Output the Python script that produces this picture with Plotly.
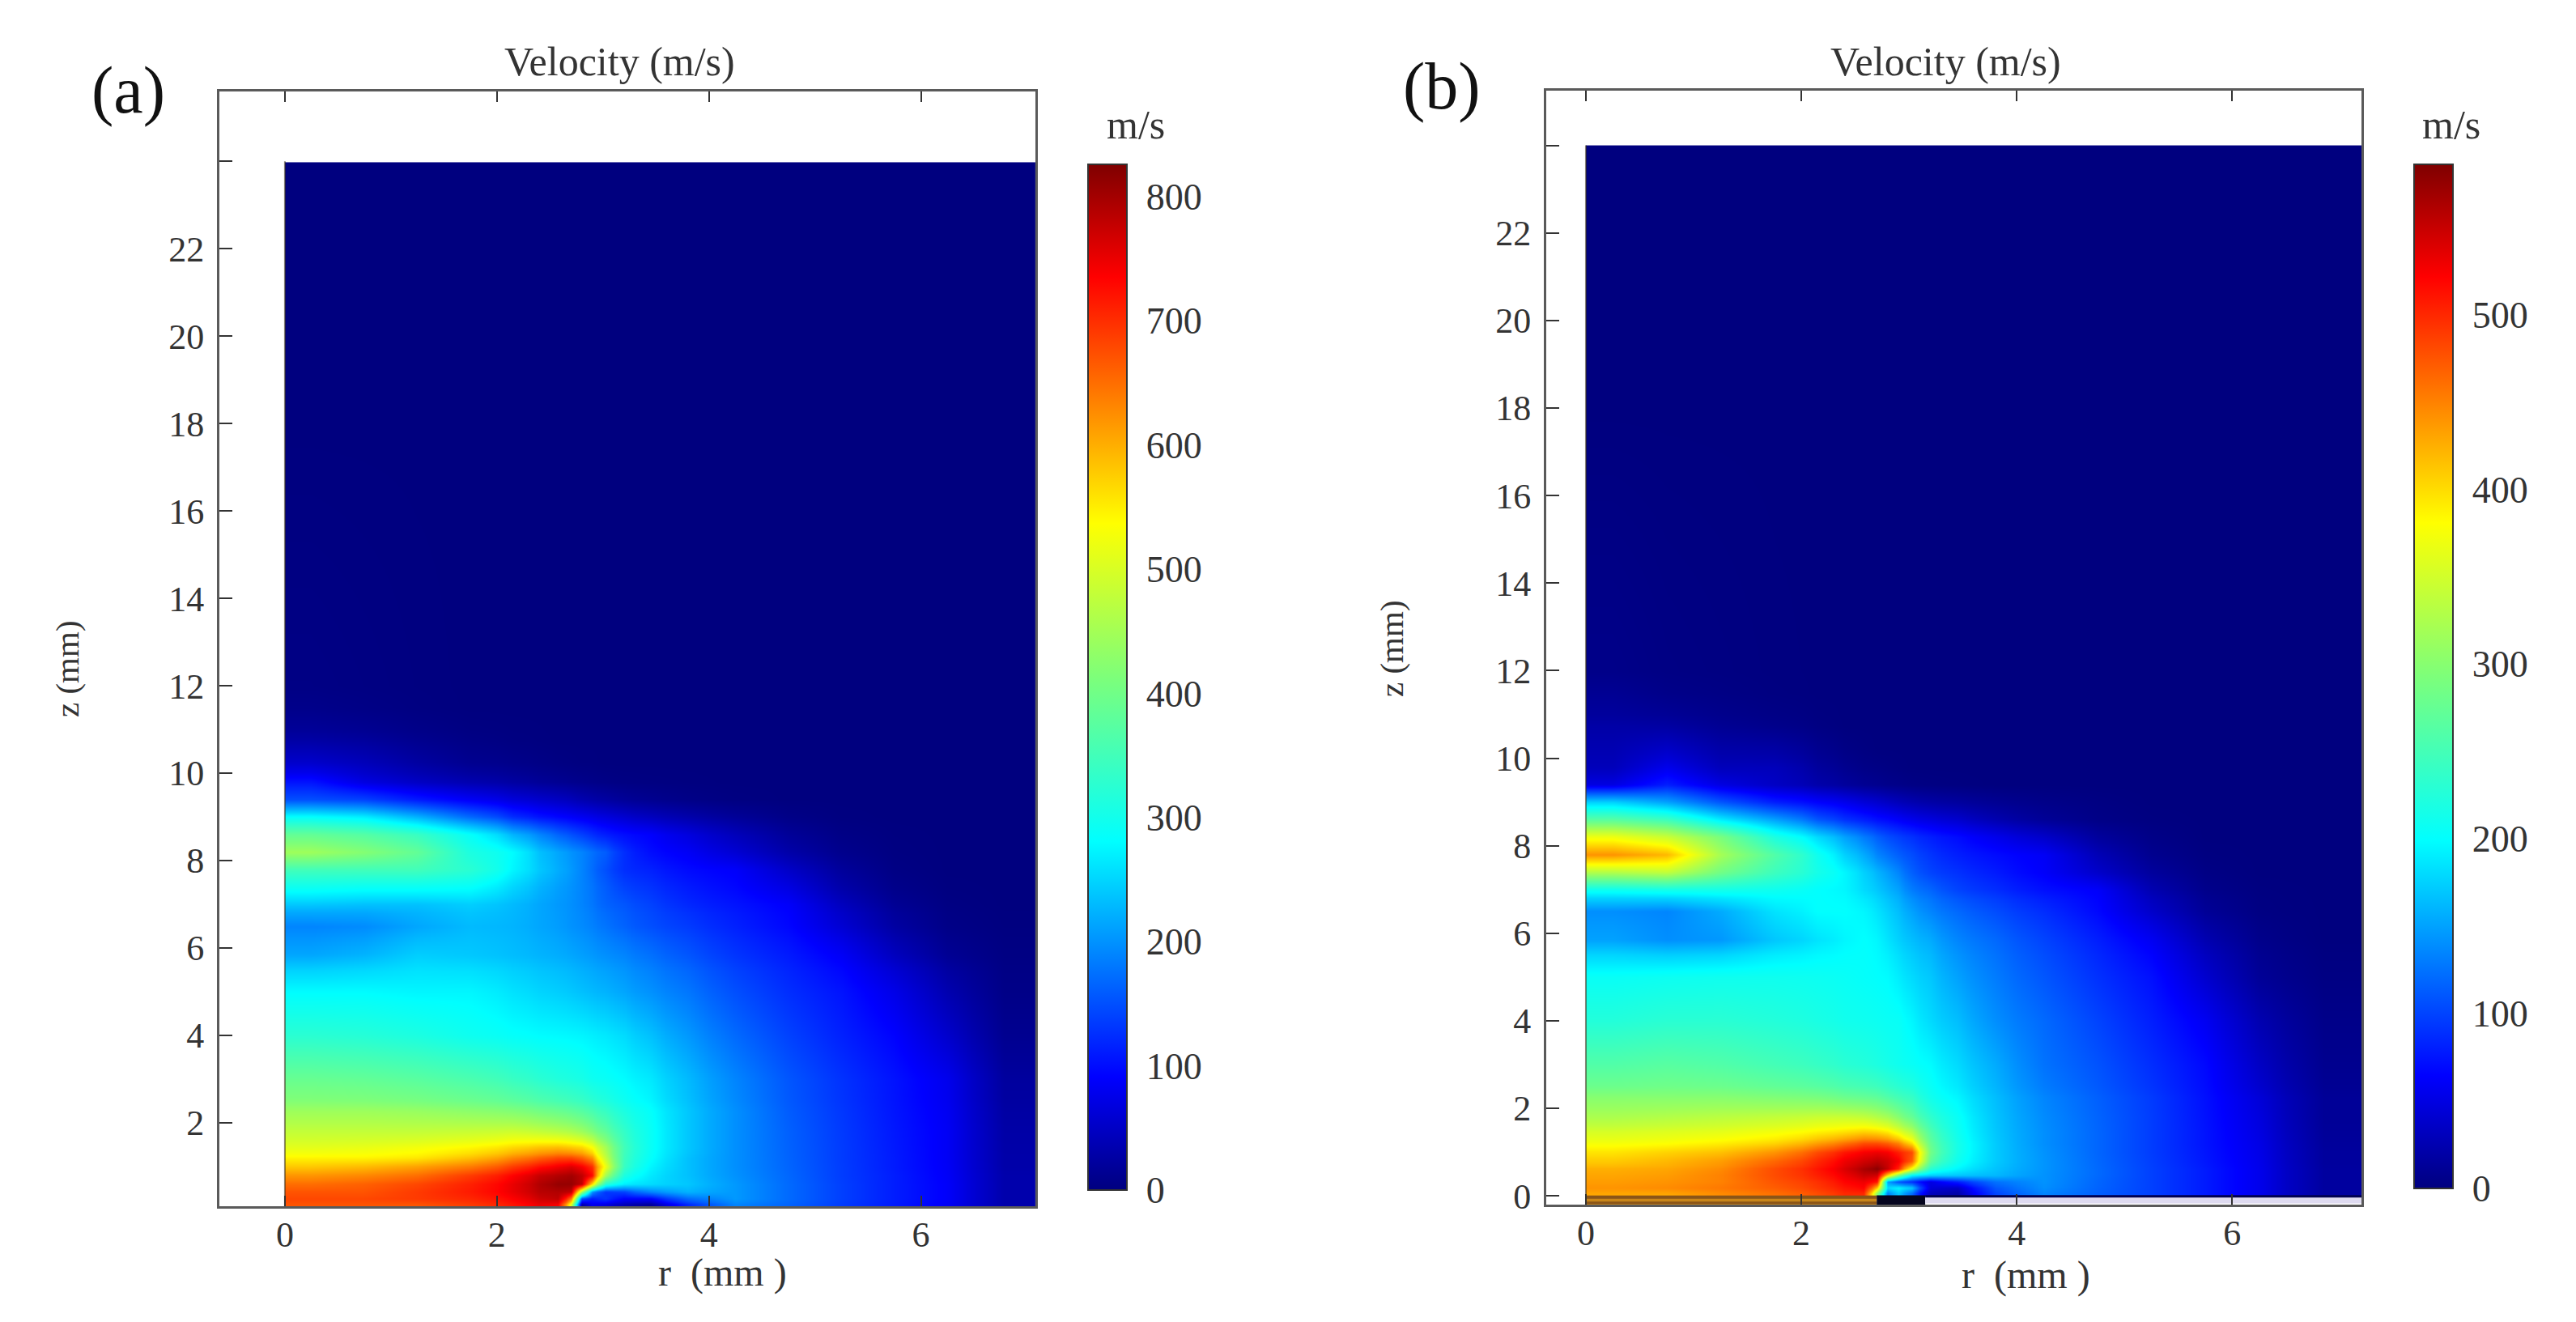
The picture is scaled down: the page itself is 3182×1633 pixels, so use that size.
import plotly.graph_objects as go

W, H = 3182, 1633

# Cell edges of the velocity maps (mm)
r_edges_a = [0, .5, 1, 1.5, 2, 2.3, 2.5, 2.65, 2.75, 2.85, 2.95, 3.1, 3.3, 3.6, 4, 4.5, 5, 5.5, 6, 6.5, 7.08]
r_edges_b = [0, .5, 1, 1.5, 2, 2.3, 2.5, 2.65, 2.75, 2.85, 2.95, 3.1, 3.3, 3.6, 4, 4.5, 5, 5.5, 6, 6.5, 7.2]
z_edges_a = [.09, .2, .35, .5, .7, .9, 1.1, 1.3, 1.6, 2, 2.5, 3.5, 4.5, 5.5, 6.2, 6.8, 7.2, 7.6, 8, 8.4, 8.8, 9.2, 9.6, 10, 10.5, 11, 12, 23.98]
z_edges_b = [0, .12, .25, .4, .55, .7, .9, 1.1, 1.3, 1.6, 2, 2.5, 3.5, 4.5, 5.5, 6.2, 6.8, 7.2, 7.6, 8, 8.4, 8.8, 9.2, 9.6, 10, 10.5, 11, 12, 24]

# Velocity (m/s), bottom row first
speed_a = [
    [670, 670, 670, 690, 720, 750, 740, 500, 30, 80, 70, 40, 20, 120, 190, 165, 135, 110, 85, 32],
    [680, 680, 690, 705, 735, 770, 780, 640, 150, 110, 130, 90, 90, 170, 205, 170, 138, 112, 88, 32],
    [670, 670, 690, 715, 750, 785, 790, 780, 450, 200, 130, 140, 190, 225, 205, 170, 138, 112, 88, 32],
    [650, 660, 680, 710, 750, 790, 810, 810, 780, 560, 320, 270, 255, 240, 205, 170, 138, 112, 88, 32],
    [620, 630, 650, 690, 735, 775, 790, 800, 780, 730, 450, 310, 265, 235, 200, 168, 136, 112, 86, 32],
    [580, 590, 610, 640, 690, 725, 745, 760, 740, 700, 520, 340, 275, 235, 198, 166, 136, 110, 85, 30],
    [545, 545, 555, 585, 630, 660, 680, 680, 660, 620, 480, 345, 285, 235, 198, 165, 135, 110, 84, 30],
    [510, 515, 525, 540, 565, 580, 585, 575, 565, 530, 450, 350, 290, 240, 198, 164, 135, 109, 84, 29],
    [480, 480, 480, 485, 490, 480, 470, 460, 445, 420, 385, 335, 290, 240, 198, 163, 134, 108, 84, 28],
    [445, 445, 440, 430, 420, 405, 395, 385, 375, 360, 340, 310, 285, 240, 198, 160, 132, 106, 82, 26],
    [390, 385, 375, 360, 340, 325, 315, 310, 305, 295, 290, 280, 265, 230, 190, 155, 128, 104, 78, 22],
    [325, 320, 310, 295, 285, 280, 278, 276, 274, 270, 265, 255, 235, 205, 170, 140, 115, 92, 55, 12],
    [280, 280, 275, 275, 260, 250, 245, 240, 235, 230, 225, 215, 200, 180, 150, 125, 105, 75, 35, 6],
    [215, 225, 245, 240, 232, 225, 220, 215, 210, 205, 198, 190, 175, 155, 130, 110, 85, 45, 15, 3],
    [190, 195, 215, 230, 225, 215, 208, 200, 195, 188, 178, 165, 150, 135, 115, 95, 60, 25, 6, 1],
    [240, 235, 235, 245, 230, 215, 205, 198, 190, 180, 165, 155, 140, 120, 105, 88, 45, 15, 3, 0],
    [295, 290, 290, 285, 250, 225, 210, 200, 190, 178, 160, 140, 128, 110, 95, 70, 30, 8, 1, 0],
    [350, 350, 350, 325, 275, 240, 220, 205, 190, 172, 150, 125, 115, 98, 88, 52, 20, 4, 0, 0],
    [445, 420, 385, 310, 280, 235, 215, 200, 190, 175, 160, 125, 100, 85, 60, 30, 10, 2, 0, 0],
    [385, 370, 340, 285, 225, 190, 165, 150, 138, 125, 112, 100, 90, 68, 42, 18, 5, 1, 0, 0],
    [285, 270, 225, 170, 125, 105, 95, 88, 82, 76, 68, 58, 46, 32, 18, 6, 1, 0, 0, 0],
    [150, 140, 110, 85, 65, 55, 48, 42, 35, 30, 25, 18, 12, 6, 2, 0, 0, 0, 0, 0],
    [105, 70, 50, 35, 25, 18, 14, 11, 9, 7, 5, 3, 2, 1, 0, 0, 0, 0, 0, 0],
    [55, 42, 25, 12, 8, 5, 3, 2, 1, 1, 0, 0, 0, 0, 0, 0, 0, 0, 0, 0],
    [28, 22, 12, 5, 2, 1, 0, 0, 0, 0, 0, 0, 0, 0, 0, 0, 0, 0, 0, 0],
    [8, 5, 2, 0, 0, 0, 0, 0, 0, 0, 0, 0, 0, 0, 0, 0, 0, 0, 0, 0],
    [0, 0, 0, 0, 0, 0, 0, 0, 0, 0, 0, 0, 0, 0, 0, 0, 0, 0, 0, 0],
]
speed_b = [
    [430, 430, 445, 460, 480, 500, 500, 300, 130, 170, 120, 30, 20, 100, 135, 115, 98, 78, 55, 16],
    [440, 445, 455, 470, 490, 510, 520, 410, 180, 195, 170, 45, 35, 110, 140, 117, 98, 78, 55, 16],
    [435, 440, 450, 475, 495, 520, 530, 510, 150, 110, 90, 50, 80, 125, 142, 118, 98, 78, 55, 16],
    [430, 435, 450, 480, 505, 530, 550, 545, 400, 290, 195, 175, 170, 162, 142, 120, 98, 78, 55, 16],
    [425, 430, 445, 480, 510, 540, 565, 580, 550, 500, 370, 230, 195, 168, 143, 120, 98, 78, 55, 16],
    [410, 420, 435, 465, 500, 530, 545, 555, 545, 525, 470, 270, 210, 172, 143, 119, 97, 76, 54, 15],
    [395, 405, 415, 440, 480, 510, 525, 530, 525, 505, 480, 285, 215, 172, 142, 118, 96, 75, 53, 15],
    [375, 380, 390, 405, 435, 460, 480, 480, 470, 450, 400, 275, 215, 172, 140, 118, 96, 74, 52, 14],
    [355, 360, 365, 375, 390, 400, 410, 405, 395, 370, 335, 260, 210, 170, 140, 118, 96, 74, 50, 13],
    [325, 330, 335, 340, 345, 345, 340, 330, 320, 300, 275, 235, 205, 168, 138, 117, 96, 73, 48, 12],
    [300, 300, 300, 295, 290, 280, 275, 270, 260, 250, 240, 212, 195, 165, 135, 115, 95, 72, 45, 12],
    [260, 265, 260, 250, 240, 230, 225, 220, 215, 210, 205, 198, 180, 155, 125, 108, 88, 68, 35, 8],
    [225, 230, 230, 225, 218, 212, 210, 208, 206, 205, 195, 180, 165, 140, 120, 100, 80, 58, 25, 5],
    [205, 208, 210, 210, 208, 205, 202, 200, 198, 190, 180, 170, 150, 130, 110, 90, 72, 40, 12, 2],
    [150, 140, 145, 170, 185, 195, 200, 195, 185, 175, 165, 155, 135, 120, 100, 80, 58, 25, 6, 0],
    [140, 135, 155, 185, 200, 200, 195, 185, 175, 165, 150, 135, 120, 105, 88, 68, 38, 12, 2, 0],
    [210, 215, 215, 210, 200, 195, 180, 170, 160, 150, 130, 118, 100, 88, 72, 62, 25, 6, 1, 0],
    [330, 340, 285, 245, 215, 195, 175, 160, 148, 135, 115, 100, 90, 78, 62, 38, 15, 3, 0, 0],
    [440, 420, 320, 260, 210, 175, 155, 135, 125, 115, 105, 92, 80, 70, 60, 28, 8, 1, 0, 0],
    [370, 345, 290, 220, 180, 150, 130, 115, 105, 98, 90, 80, 70, 55, 38, 15, 4, 0, 0, 0],
    [265, 245, 190, 150, 110, 90, 80, 72, 68, 62, 55, 48, 40, 25, 12, 4, 1, 0, 0, 0],
    [175, 150, 110, 80, 65, 55, 45, 40, 35, 30, 25, 20, 16, 10, 5, 2, 0, 0, 0, 0],
    [50, 80, 50, 35, 22, 15, 10, 8, 6, 5, 3, 2, 1, 0, 0, 0, 0, 0, 0, 0],
    [30, 55, 30, 30, 15, 8, 4, 3, 2, 1, 0, 0, 0, 0, 0, 0, 0, 0, 0, 0],
    [25, 35, 20, 18, 8, 3, 1, 0, 0, 0, 0, 0, 0, 0, 0, 0, 0, 0, 0, 0],
    [20, 18, 10, 6, 2, 0, 0, 0, 0, 0, 0, 0, 0, 0, 0, 0, 0, 0, 0, 0],
    [10, 5, 3, 1, 0, 0, 0, 0, 0, 0, 0, 0, 0, 0, 0, 0, 0, 0, 0, 0],
    [0, 0, 0, 0, 0, 0, 0, 0, 0, 0, 0, 0, 0, 0, 0, 0, 0, 0, 0, 0],
]

# Ticks
r_ticks = [0, 2, 4, 6]
z_ticks_a = [2, 4, 6, 8, 10, 12, 14, 16, 18, 20, 22, 24]
z_labels_a = ["2", "4", "6", "8", "10", "12", "14", "16", "18", "20", "22", ""]
z_ticks_b = [0, 2, 4, 6, 8, 10, 12, 14, 16, 18, 20, 22, 24]
z_labels_b = ["0", "2", "4", "6", "8", "10", "12", "14", "16", "18", "20", "22", ""]
bar_ticks_a = [0, 100, 200, 300, 400, 500, 600, 700, 800]
bar_ticks_b = [0, 100, 200, 300, 400, 500]
zmax_a = 826
zmax_b = 586

# Matlab style jet
jet = [[0, "#00007f"], [.11, "#0000ff"], [.34, "#00ffff"], [.5, "#7dff7a"],
       [.65, "#ffff00"], [.89, "#ff0000"], [1, "#7f0000"]]

SERIF = "Liberation Serif"
INK = "#333333"
LINE = "#5a5a5a"


def px(x):
    return x / W


def py(y):
    return 1 - y / H


fig = go.Figure()


def add_panel(n, r_edges, z_edges, speed, zmax, bar_ticks, bar_x, bar_top, bar_bot):
    suffix = "" if n == 1 else "2"
    fig.add_trace(go.Heatmap(
        x=r_edges, y=z_edges, z=speed, zmin=0, zmax=zmax, zsmooth="best",
        colorscale=jet, xaxis="x" + suffix, yaxis="y" + suffix,
        hoverinfo="skip",
        colorbar=dict(
            x=px(bar_x), xanchor="left", y=py(bar_top), yanchor="top",
            lenmode="pixels", len=bar_bot - bar_top,
            thicknessmode="pixels", thickness=48, xpad=0, ypad=0,
            outlinecolor=INK, outlinewidth=2,
            tickvals=bar_ticks, ticks="outside", ticklen=14,
            tickcolor="rgba(0,0,0,0)",
            tickfont=dict(family=SERIF, size=46, color=INK),
        ),
    ))


add_panel(1, r_edges_a, z_edges_a, speed_a, zmax_a, bar_ticks_a, 1344, 203, 1470)
add_panel(2, r_edges_b, z_edges_b, speed_b, zmax_b, bar_ticks_b, 2982, 203, 1468)

# dark edge at r=0
fig.add_trace(go.Scatter(x=[0, 0], y=[.09, 24], mode="lines", xaxis="x", yaxis="y",
                         line=dict(color="rgba(60,50,30,.6)", width=2),
                         hoverinfo="skip", showlegend=False))
fig.add_trace(go.Scatter(x=[0, 0], y=[0, 24], mode="lines", xaxis="x2", yaxis="y2",
                         line=dict(color="rgba(60,50,30,.6)", width=2),
                         hoverinfo="skip", showlegend=False))

# strip under the map in (b)
strips = [
    ([0, 2.7], -.1, "#c8861a", 11),
    ([0, 2.7], -.03, "#8a5518", 4),
    ([0, 2.7], -.16, "#8a5518", 3),
    ([2.7, 3.15], -.1, "#05051e", 12),
    ([3.15, 7.2], -.1, "#dedaf0", 8),
    ([3.15, 7.2], -.01, "#000050", 3),
]
for xs, level, col, wid in strips:
    fig.add_trace(go.Scatter(x=xs, y=[level, level], mode="lines", xaxis="x2", yaxis="y2",
                             line=dict(color=col, width=wid),
                             hoverinfo="skip", showlegend=False))

xcommon = dict(showgrid=False, zeroline=False, showline=True, linecolor=LINE, linewidth=3,
               mirror="ticks", ticks="inside", ticklen=13, tickwidth=2, tickcolor=INK,
               tickvals=r_ticks, ticklabelstandoff=-6,
               tickfont=dict(family=SERIF, size=44, color=INK))
ycommon = dict(showgrid=False, zeroline=False, showline=True, linecolor=LINE, linewidth=3,
               mirror=True, ticks="inside", ticklen=16, tickwidth=2, tickcolor=INK,
               ticklabelstandoff=7,
               tickfont=dict(family=SERIF, size=44, color=INK))

fig.update_layout(
    width=W, height=H, autosize=False,
    margin=dict(l=0, r=0, t=0, b=0, autoexpand=False),
    paper_bgcolor="white", plot_bgcolor="white", showlegend=False,
    xaxis=dict(domain=[px(271), px(1279)], range=[-.618, 7.08], **xcommon),
    yaxis=dict(domain=[py(1490), py(113)], range=[.09, 25.6],
               tickvals=z_ticks_a, ticktext=z_labels_a, **ycommon),
    xaxis2=dict(domain=[px(1910), px(2917)], range=[-.368, 7.2], anchor="y2", **xcommon),
    yaxis2=dict(domain=[py(1488), py(112)], range=[-.2, 25.25], anchor="x2",
                tickvals=z_ticks_b, ticktext=z_labels_b, **ycommon),
)

labels = [
    ("(a)", 158, 112, 82, 0),
    ("(b)", 1781, 106, 82, 0),
    ("Velocity (m/s)", 765, 76, 50, 0),
    ("Velocity (m/s)", 2403, 76, 50, 0),
    ("m/s", 1403, 154, 50, 0),
    ("m/s", 3028, 154, 50, 0),
    ("r\u00a0\u00a0(mm\u00a0)", 892, 1572, 48, 0),
    ("r\u00a0\u00a0(mm\u00a0)", 2502, 1575, 48, 0),
    ("z (mm)", 83, 826, 41, -90),
    ("z (mm)", 1719, 801, 41, -90),
]
for text, x, y, size, angle in labels:
    fig.add_annotation(text=text, x=px(x), y=py(y), xref="paper", yref="paper",
                       xanchor="center", yanchor="middle", showarrow=False, textangle=angle,
                       font=dict(family=SERIF, size=size, color=INK if size < 60 else "#111111"))

fig.write_html("out.html", config={"displayModeBar": False},
               post_script="document.body.style.margin='0';")
